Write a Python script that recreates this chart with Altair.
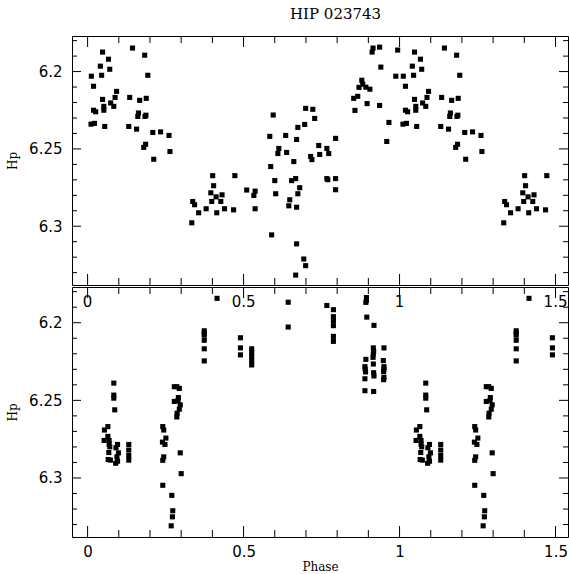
import altair as alt
import pandas as pd

# ---------------- data (phase in [0,1), Hp magnitude) ----------------
top_phase = [
    0.012, 0.019, 0.019, 0.026, 0.011, 0.022, 0.041, 0.045, 0.048, 0.067,
    0.071, 0.048, 0.052, 0.052, 0.055, 0.074, 0.084, 0.088, 0.093, 0.135,
    0.144, 0.132, 0.157, 0.167, 0.163, 0.161, 0.183, 0.193, 0.188, 0.184,
    0.187, 0.186, 0.180, 0.209, 0.234, 0.261, 0.264, 0.212,
    0.334, 0.337, 0.343, 0.356, 0.380, 0.395, 0.398, 0.401, 0.404, 0.412,
    0.414, 0.427, 0.431, 0.439, 0.468, 0.472, 0.510, 0.533, 0.537, 0.537,
    0.699, 0.722, 0.595, 0.728, 0.696, 0.674, 0.584, 0.635, 0.670, 0.795,
    0.741, 0.613, 0.767, 0.610, 0.638, 0.773, 0.744, 0.715, 0.719, 0.661,
    0.587, 0.600, 0.654, 0.667, 0.767, 0.770, 0.795, 0.680, 0.795, 0.603,
    0.674, 0.648, 0.645, 0.670, 0.590, 0.670, 0.693, 0.699, 0.667,
    0.853, 0.857, 0.866, 0.870, 0.879, 0.882, 0.892, 0.905, 0.896, 0.912,
    0.915, 0.936, 0.940, 0.936, 0.966, 0.959, 0.994, 0.988,
]
top_mag = [
    6.2030, 6.2095, 6.2250, 6.2260, 6.2340, 6.2335, 6.1965, 6.2024, 6.1874, 6.1920,
    6.1985, 6.2180, 6.2225, 6.2250, 6.2355, 6.2203, 6.2225, 6.2167, 6.2128, 6.2167,
    6.1848, 6.2355, 6.2372, 6.2186, 6.2268, 6.2290, 6.1894, 6.2024, 6.2173, 6.2290,
    6.2282, 6.2470, 6.2490, 6.2394, 6.2390, 6.2413, 6.2517, 6.2567,
    6.2978, 6.2840, 6.2861, 6.2913, 6.2887, 6.2784, 6.2840, 6.2673, 6.2738, 6.2810,
    6.2913, 6.2840, 6.2797, 6.2887, 6.2894, 6.2673, 6.2766, 6.2801, 6.2773, 6.2887,
    6.2238, 6.2244, 6.2281, 6.2303, 6.2342, 6.2361, 6.2419, 6.2413, 6.2439, 6.2432,
    6.2478, 6.2497, 6.2497, 6.2530, 6.2523, 6.2530, 6.2536, 6.2549, 6.2569, 6.2582,
    6.2614, 6.2705, 6.2705, 6.2692, 6.2692, 6.2699, 6.2692, 6.2751, 6.2764, 6.2790,
    6.2790, 6.2829, 6.2868, 6.2877, 6.3056, 6.3114, 6.3212, 6.3255, 6.3316,
    6.2173, 6.2251, 6.2160, 6.2102, 6.2056, 6.2082, 6.2101, 6.2114, 6.2207, 6.1874,
    6.1848, 6.1842, 6.1971, 6.2219, 6.2329, 6.2452, 6.1861, 6.2030,
]

bot_phase = [
    0.084, 0.084, 0.084, 0.087, 0.065, 0.054, 0.053, 0.065, 0.069, 0.069,
    0.071, 0.068, 0.066, 0.073, 0.091, 0.096, 0.099, 0.094, 0.090, 0.096,
    0.132, 0.132, 0.132, 0.132,
    0.278, 0.286, 0.294, 0.291, 0.278, 0.290, 0.297, 0.294, 0.287, 0.286,
    0.241, 0.244, 0.251, 0.240, 0.248, 0.244, 0.241, 0.297, 0.300, 0.241,
    0.270, 0.273, 0.272, 0.268,
    0.374, 0.374, 0.374, 0.374, 0.374, 0.374, 0.415, 0.490, 0.490, 0.490,
    0.526, 0.526, 0.526, 0.526, 0.526,
    0.643, 0.643, 0.767, 0.788, 0.788, 0.788, 0.788, 0.788, 0.788,
    0.894, 0.894, 0.892, 0.895, 0.892, 0.889, 0.890, 0.891, 0.889, 0.889,
    0.918, 0.916, 0.917, 0.916, 0.915, 0.916, 0.917, 0.918, 0.917,
    0.950, 0.948, 0.950, 0.950, 0.949, 0.950, 0.949,
]
bot_mag = [
    6.2389, 6.2466, 6.2486, 6.2561, 6.2669, 6.2691, 6.2758, 6.2732, 6.2758, 6.2784,
    6.2799, 6.2836, 6.2881, 6.2885, 6.2805, 6.2784, 6.2838, 6.2864, 6.2905, 6.2892,
    6.2784, 6.2820, 6.2855, 6.2885,
    6.2412, 6.2412, 6.2423, 6.2482, 6.2507, 6.2503, 6.2529, 6.2557, 6.2583, 6.2607,
    6.2669, 6.2691, 6.2743, 6.2769, 6.2784, 6.2864, 6.2886, 6.2838, 6.2972, 6.3047,
    6.3112, 6.3211, 6.3250, 6.3308,
    6.2052, 6.2066, 6.2080, 6.2113, 6.2168, 6.2246, 6.1843, 6.2097, 6.2162, 6.2207,
    6.2168, 6.2192, 6.2218, 6.2245, 6.2272,
    6.1868, 6.2028, 6.1889, 6.1916, 6.1961, 6.1987, 6.2019, 6.2088, 6.2120,
    6.1838, 6.1855, 6.1869, 6.1964, 6.2236, 6.2283, 6.2300, 6.2317, 6.2361, 6.2438,
    6.2017, 6.2162, 6.2184, 6.2201, 6.2223, 6.2266, 6.2322, 6.2343, 6.2443,
    6.2162, 6.2244, 6.2283, 6.2298, 6.2315, 6.2352, 6.2367,
]

x_major = [0, 0.5, 1, 1.5]
x_labels = ["0", "0.5", "1", "1.5"]
x_minor = [0.1, 0.2, 0.3, 0.4, 0.6, 0.7, 0.8, 0.9, 1.1, 1.2, 1.3, 1.4]
y_major = [6.2, 6.25, 6.3]
y_minor = [6.18, 6.19, 6.21, 6.22, 6.23, 6.24, 6.26, 6.27, 6.28, 6.29,
           6.31, 6.32, 6.33]

XDOM = [-0.05, 1.54]
YDOM = [6.177, 6.338]
W = 496
SERIF = "DejaVu Serif"
SANS = "DejaVu Sans"


def fold(phases, mags):
    rows = []
    for p, m in zip(phases, mags):
        rows.append({"phase": p, "mag": m})
        if p < 0.5:
            rows.append({"phase": p + 1.0, "mag": m})
    return pd.DataFrame(rows)


xs = alt.Scale(domain=XDOM, nice=False, zero=False)
ys = alt.Scale(domain=YDOM, reverse=True, nice=False, zero=False)

df_xmaj = pd.DataFrame({"v": x_major, "lab": x_labels})
df_xmin = pd.DataFrame({"v": x_minor})
df_ymaj = pd.DataFrame({"v": y_major})
df_ymin = pd.DataFrame({"v": y_minor})


def panel(df, H, is_bottom):
    if is_bottom:
        xaxis = alt.Axis(values=x_major, labelExpr="'' + datum.value", ticks=False,
                         domain=False, grid=False, labelFontSize=15, labelFont=SANS,
                         labelColor="black", labelPadding=7, labelFlush=False,
                         title="Phase", titleFont=SERIF, titleFontSize=12,
                         titleFontWeight="normal", titleColor="black",
                         titlePadding=2)
    else:
        xaxis = None
    yaxis = alt.Axis(values=y_major, labelExpr="'' + datum.value", ticks=False,
                     domain=False, grid=False, labelFontSize=15, labelFont=SANS,
                     labelColor="black", labelPadding=10, labelFlush=False,
                     title="Hp", titleFont=SERIF, titleFontSize=12,
                     titleFontWeight="normal", titleColor="black", titlePadding=9)
    pts = alt.Chart(df).mark_square(size=26, color="black", opacity=1).encode(
        x=alt.X("phase:Q", scale=xs, axis=xaxis),
        y=alt.Y("mag:Q", scale=ys, axis=yaxis),
    )
    layers = [pts]
    for d, L in ((df_xmaj, 11), (df_xmin, 7)):
        layers.append(alt.Chart(d).mark_rule(color="black", strokeWidth=1).encode(
            x=alt.X("v:Q", scale=xs, axis=xaxis), y=alt.value(0), y2=alt.value(L)))
        layers.append(alt.Chart(d).mark_rule(color="black", strokeWidth=1).encode(
            x=alt.X("v:Q", scale=xs, axis=xaxis), y=alt.value(H), y2=alt.value(H - L)))
    for d, L in ((df_ymaj, 9), (df_ymin, 5)):
        layers.append(alt.Chart(d).mark_rule(color="black", strokeWidth=1).encode(
            y=alt.Y("v:Q", scale=ys, axis=yaxis), x=alt.value(0), x2=alt.value(L)))
        layers.append(alt.Chart(d).mark_rule(color="black", strokeWidth=1).encode(
            y=alt.Y("v:Q", scale=ys, axis=yaxis), x=alt.value(W), x2=alt.value(W - L)))
    if is_bottom:
        # phase labels of the upper panel's lower axis, sitting just inside this panel
        layers.append(alt.Chart(df_xmaj).mark_text(
            font=SANS, fontSize=15, color="black", baseline="top", align="center"
        ).encode(x=alt.X("v:Q", scale=xs, axis=xaxis), y=alt.value(8), text="lab:N"))
    return alt.layer(*layers).properties(width=W, height=H)


top = panel(fold(top_phase, top_mag), 249, False)
bottom = panel(fold(bot_phase, bot_mag), 250, True)

chart = alt.vconcat(top, bottom, spacing=0).properties(
    title=alt.TitleParams("HIP 023743", font=SERIF, fontSize=15, anchor="middle",
                          fontWeight="normal", color="black", offset=13, dx=48),
    padding={"left": 6, "top": 7, "right": 0, "bottom": 0},
    background="white",
).configure_view(stroke="black", strokeWidth=1)

chart.save("out.html", embed_options={"renderer": "svg", "actions": False})
